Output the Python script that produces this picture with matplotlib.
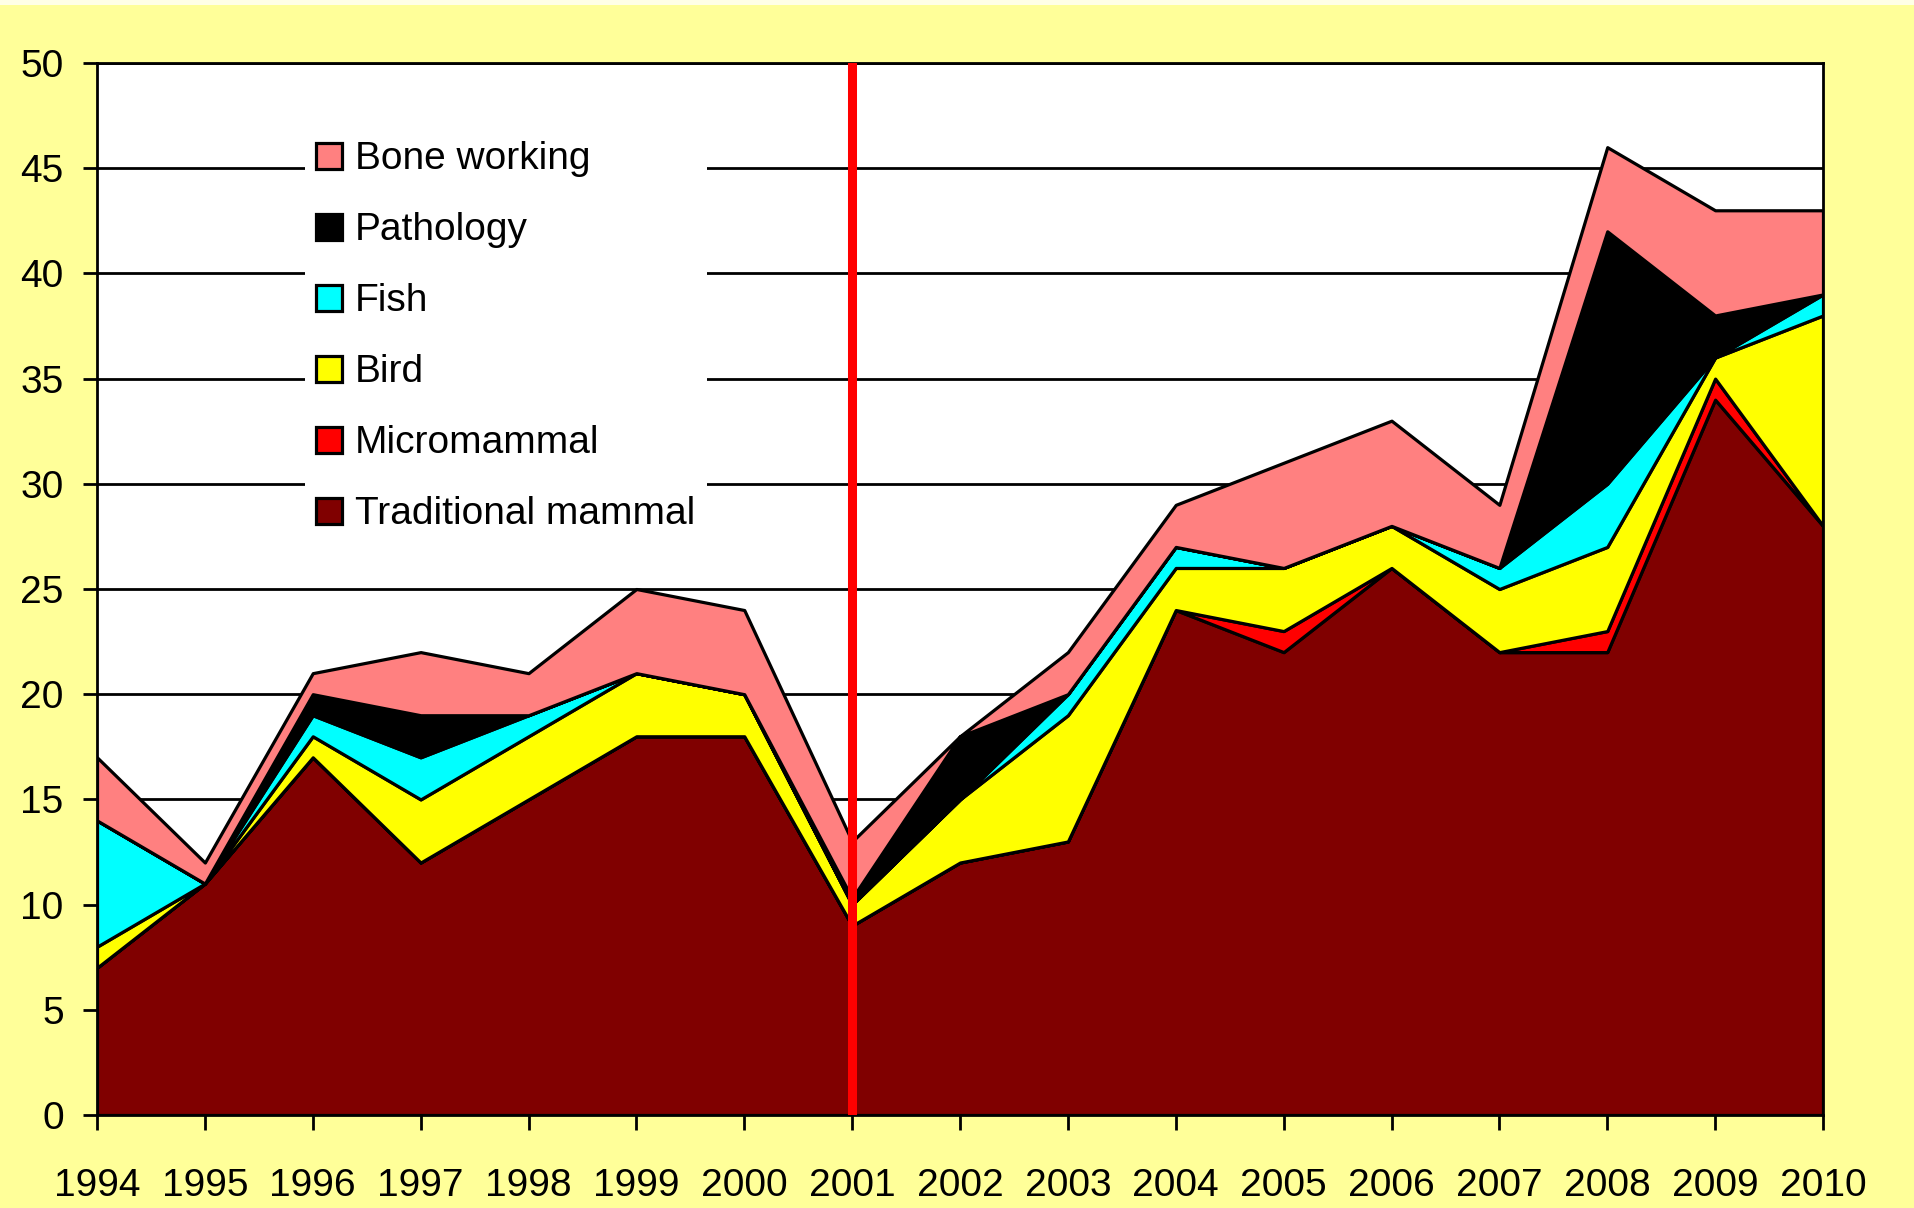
import numpy as np
import matplotlib; matplotlib.use('agg')
import matplotlib.pyplot as plt
from matplotlib.patches import Rectangle

plt.rcParams['font.family'] = ['Liberation Sans', 'DejaVu Sans']
FS = 28

years = list(range(1994, 2011))
traditional = [7, 11, 17, 12, 15, 18, 18, 9, 12, 13, 24, 22, 26, 22, 22, 34, 28]
micromammal = [0, 0, 0, 0, 0, 0, 0, 0, 0, 0, 0, 1, 0, 0, 1, 1, 0]
bird = [1, 0, 1, 3, 3, 3, 2, 1, 3, 6, 2, 3, 2, 3, 4, 1, 10]
fish = [6, 0, 1, 2, 1, 0, 0, 0, 0, 1, 1, 0, 0, 1, 3, 0, 1]
pathology = [0, 0, 1, 2, 0, 0, 0, 0.3, 3, 0, 0, 0, 0, 0, 12, 2, 0]
bone_working = [3, 1, 1, 3, 2, 4, 4, 2.7, 0, 2, 2, 5, 5, 3, 4, 5, 4]

labels = ["Traditional mammal", "Micromammal", "Bird", "Fish", "Pathology", "Bone working"]
colors = ["#800000", "#FF0000", "#FFFF00", "#00FFFF", "#000000", "#FF8080"]
split_year = 2001

fig = plt.figure(figsize=(19.15, 12.08), dpi=100, facecolor="#FFFF99")
fig.patches.append(Rectangle((0, 1 - 5 / 1208), 1, 5 / 1208, transform=fig.transFigure,
                             facecolor="#FFFFE6", edgecolor="none"))
ax = fig.add_axes([97 / 1915, 1 - 1115 / 1208, (1823 - 97) / 1915, (1115 - 63) / 1208])
ax.set_facecolor("white")

ax.stackplot(years, traditional, micromammal, bird, fish, pathology, bone_working,
             colors=colors, labels=labels, edgecolor="black", linewidth=2.3, zorder=2)
ax.axvline(split_year, color="#FF0000", lw=6.5, zorder=3)

ax.set_xlim(1994, 2010)
ax.set_ylim(0, 50)
ax.set_yticks(range(0, 51, 5))
ax.set_xticks(years)
ax.yaxis.grid(True, color="black", lw=2, zorder=0)
ax.set_axisbelow(True)
for s in ax.spines.values():
    s.set_linewidth(2)
ax.tick_params(axis="y", length=10, width=2, pad=14, labelsize=FS)
ax.tick_params(axis="x", length=11, width=2, pad=27, labelsize=FS)

h, l = ax.get_legend_handles_labels()
leg = ax.legend(h[::-1], l[::-1], loc="upper left", bbox_to_anchor=(0.109, 0.955),
                fontsize=FS, frameon=True, facecolor="white", edgecolor="none",
                framealpha=1, fancybox=False, borderpad=0.3, handlelength=0.65,
                handleheight=0.65, handletextpad=0.35, labelspacing=0.9)
leg.set_zorder(5)

fig.savefig("out.png", dpi=100, facecolor=fig.get_facecolor())
